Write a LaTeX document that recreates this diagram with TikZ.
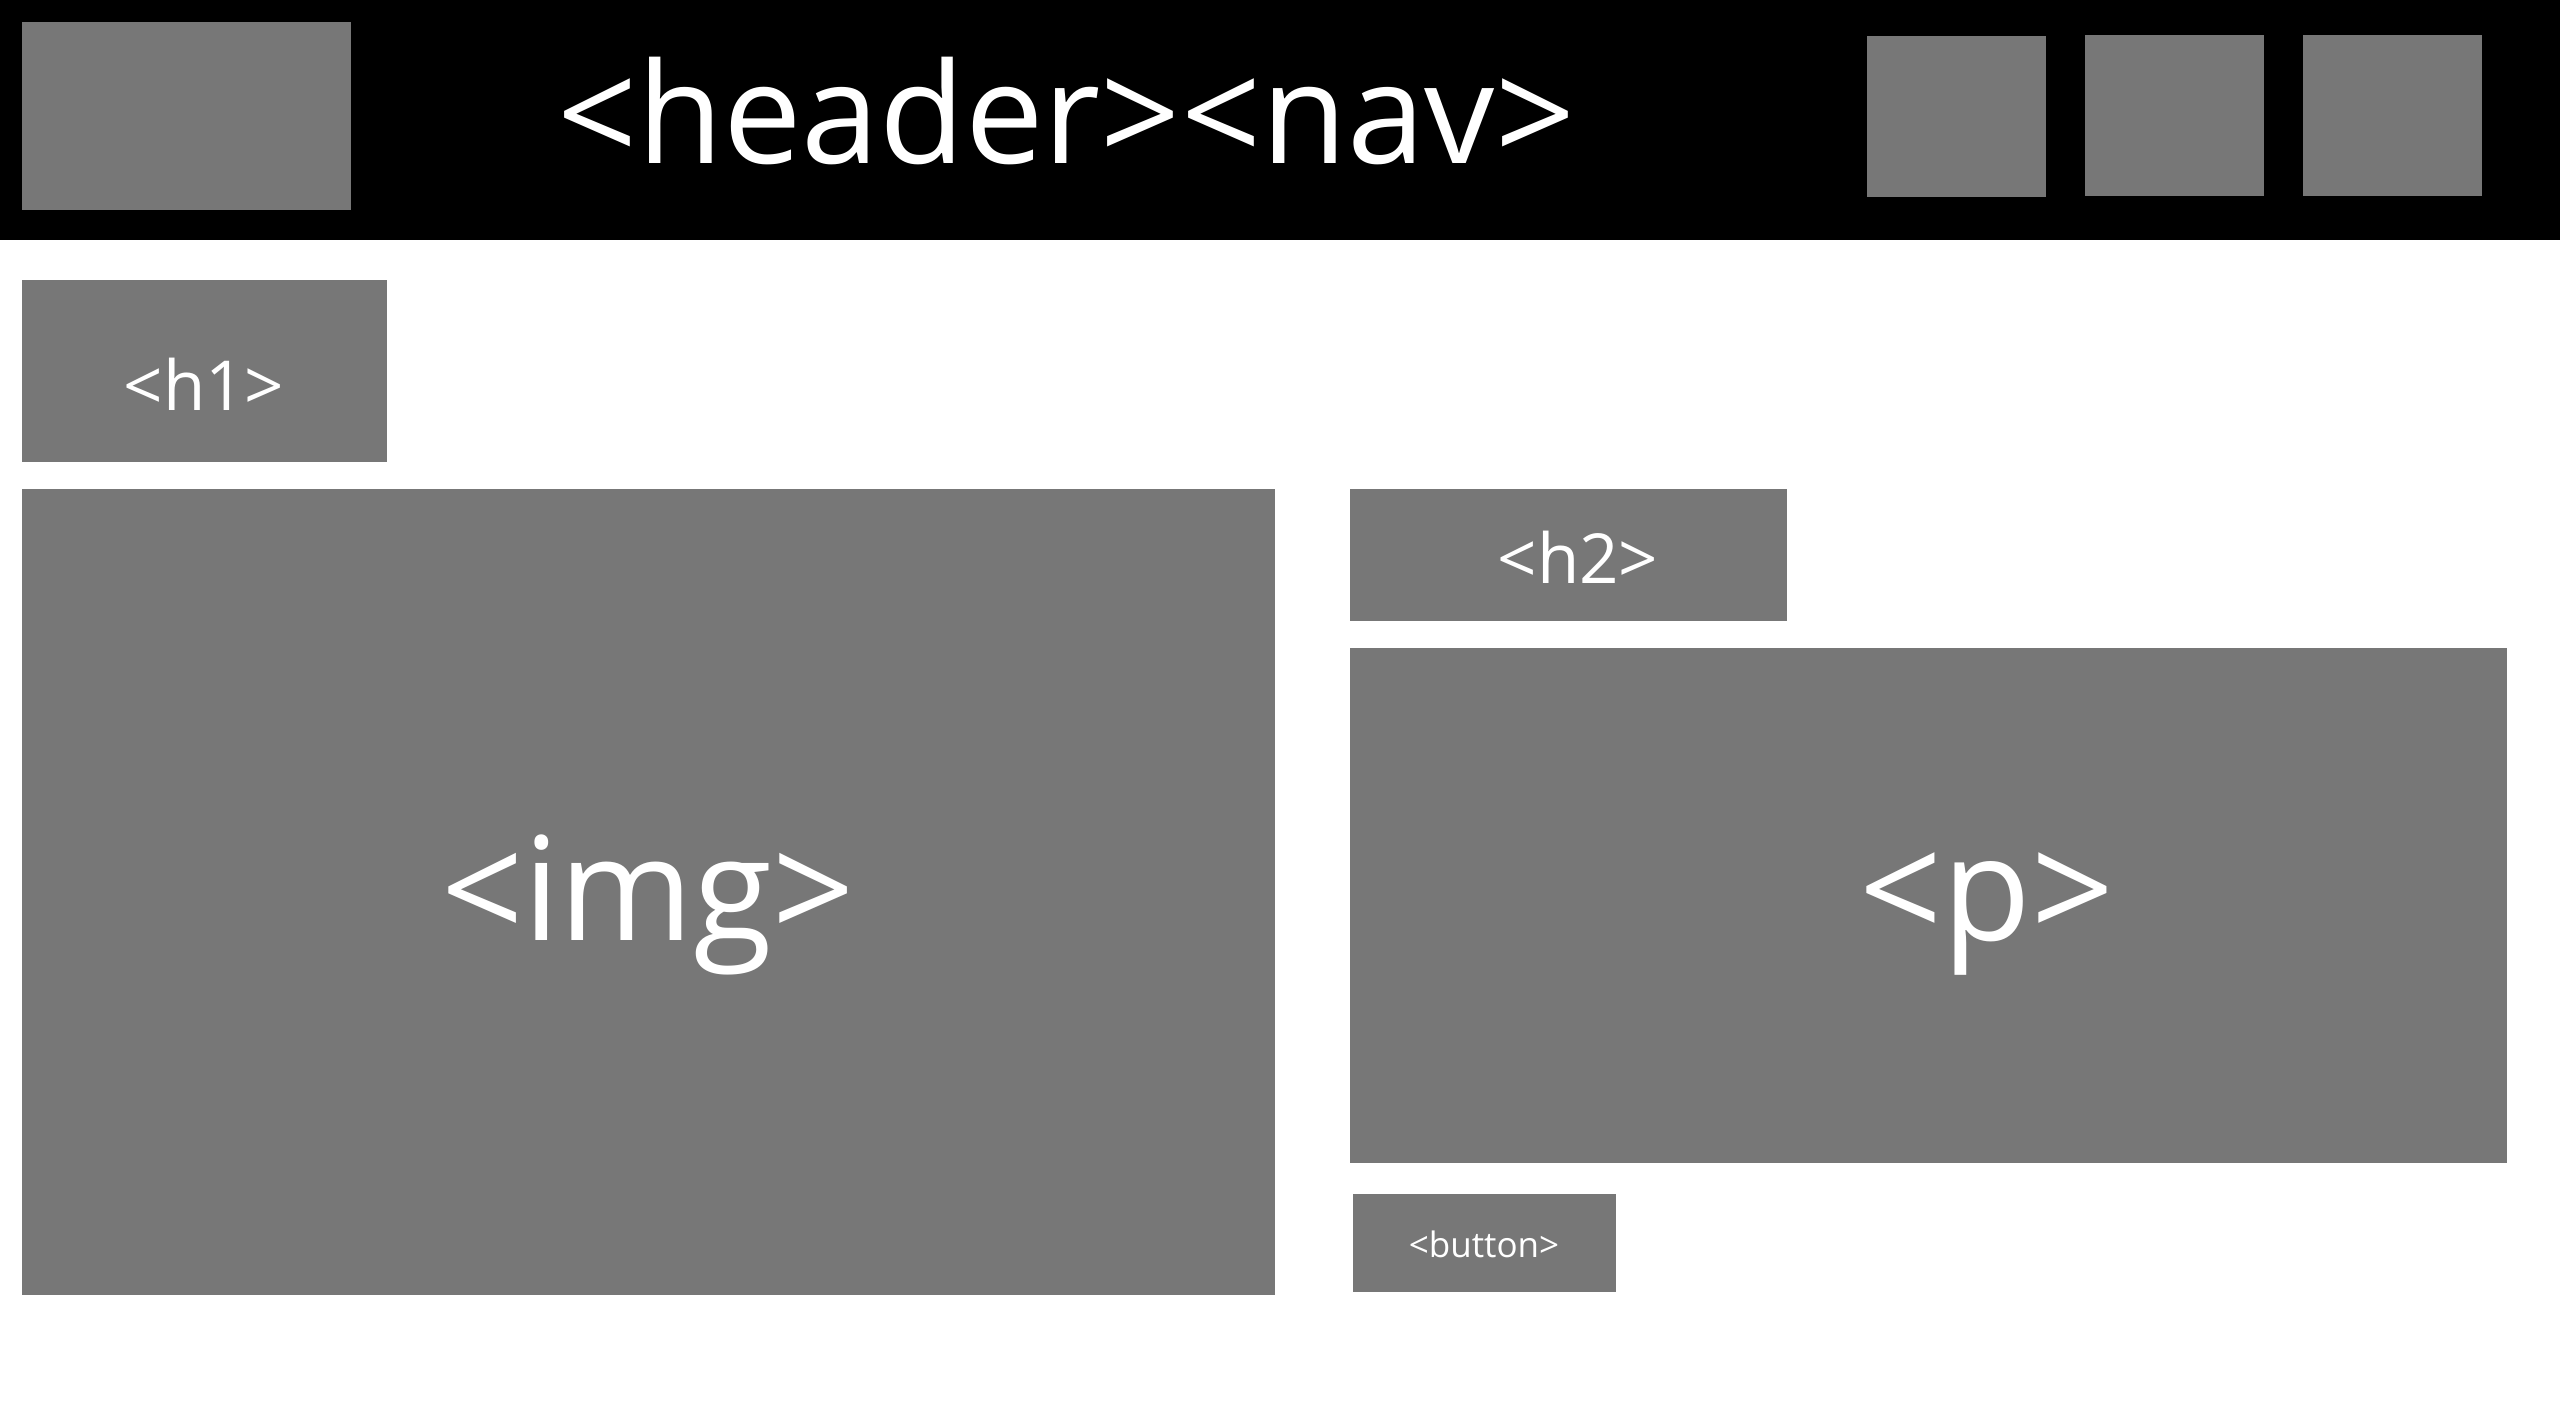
\documentclass[tikz,border=0pt]{standalone}
\usepackage{fontspec}
\setmainfont{Open Sans}
\definecolor{boxgray}{HTML}{777777}
\tikzset{
  block/.style={rectangle, fill=boxgray, draw=none, inner sep=0pt, outer sep=0pt, anchor=north west},
  tag/.style={text=white, inner sep=0pt, outer sep=0pt, anchor=base},
}
\newcommand{\tagsize}[1]{\fontsize{#1}{#1}\selectfont}
\begin{document}
\begin{tikzpicture}[x=1pt, y=-1pt]
  \useasboundingbox (0,0) rectangle (2560,1402);
  \fill[white] (0,0) rectangle (2560,1402);
  % page header band
  \fill[black] (0,0) rectangle (2560,240);

  % header: logo and navigation items
  \node[block, minimum width=329pt, minimum height=188pt] (logo) at (22,22) {};
  \node[block, minimum width=179pt, minimum height=161pt] (nav1) at (1867,36) {};
  \node[block, minimum width=179pt, minimum height=161pt] (nav2) at (2085,35) {};
  \node[block, minimum width=179pt, minimum height=161pt] (nav3) at (2303,35) {};
  \node[tag, font=\tagsize{140}] (headertag) at (1066,164) {<header><nav>};

  % page body
  \node[block, minimum width=365pt, minimum height=182pt] (h1box) at (22,280) {};
  \node[block, minimum width=1253pt, minimum height=806pt] (imgbox) at (22,489) {};
  \node[block, minimum width=437pt, minimum height=132pt] (h2box) at (1350,489) {};
  \node[block, minimum width=1157pt, minimum height=515pt] (pbox) at (1350,648) {};
  \node[block, minimum width=263pt, minimum height=98pt] (buttonbox) at (1353,1194) {};

  \node[tag, font=\tagsize{69}] (h1tag) at (204,410) {<h1>};
  \node[tag, font=\tagsize{69}] (h2tag) at (1578,583) {<h2>};
  \node[tag, font=\tagsize{144}] (imgtag) at (648,940) {<img>};
  \node[tag, font=\tagsize{145}] (ptag) at (1987,940) {<p>};
  \node[tag, font=\tagsize{35}] (buttontag) at (1484,1257) {<button>};
\end{tikzpicture}
\end{document}
